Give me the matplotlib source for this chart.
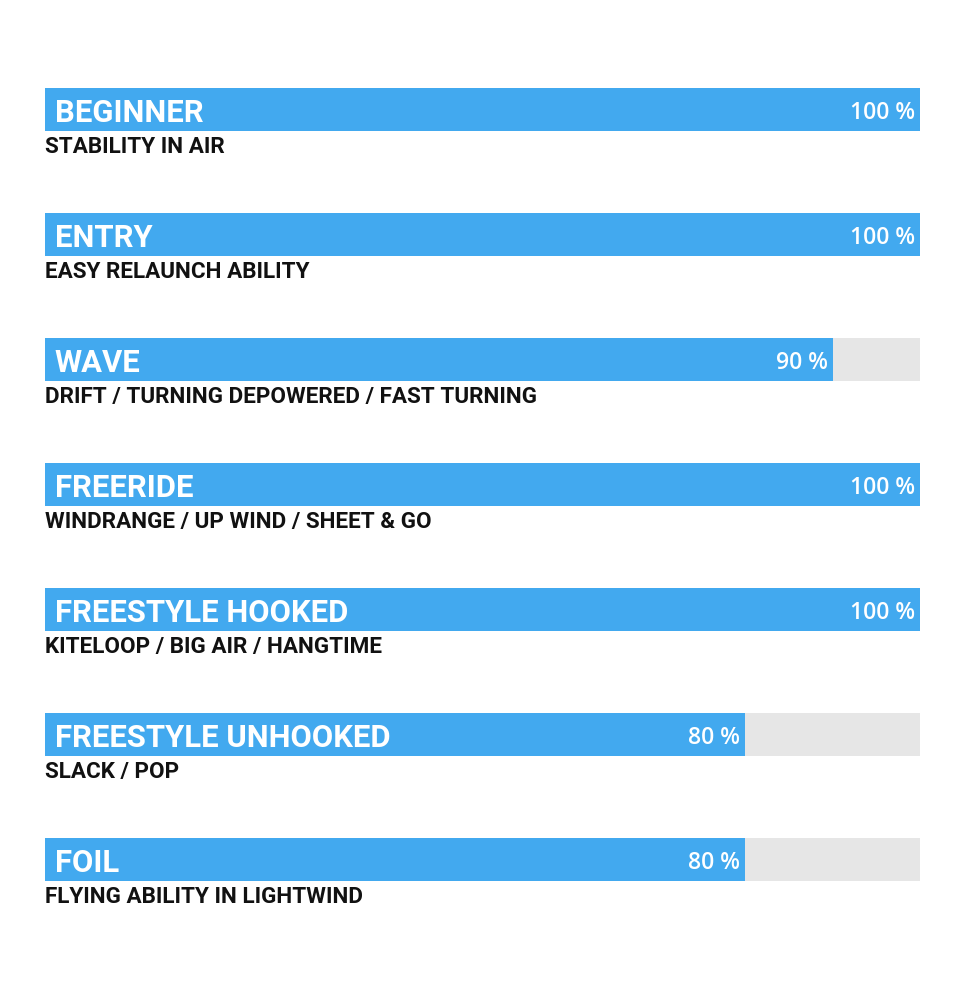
import matplotlib
matplotlib.use("Agg")
import matplotlib.pyplot as plt

categories = ["BEGINNER", "ENTRY", "WAVE", "FREERIDE", "FREESTYLE HOOKED",
              "FREESTYLE UNHOOKED", "FOIL"]
descriptions = ["STABILITY IN AIR", "EASY RELAUNCH ABILITY",
                "DRIFT / TURNING DEPOWERED / FAST TURNING",
                "WINDRANGE / UP WIND / SHEET & GO",
                "KITELOOP / BIG AIR / HANGTIME", "SLACK / POP",
                "FLYING ABILITY IN LIGHTWIND"]
values = [100, 100, 90, 100, 100, 80, 80]
max_value = 100

BLUE = "#42A9EF"
GREY = "#E6E6E6"
W, H = 980, 981

fig = plt.figure(figsize=(W / 100, H / 100), dpi=100)
# axes: x 0..100 -> px 45..920 ; y -0.5..6.5 -> px 46.5..921.5 from top
ax = fig.add_axes([45 / W, 1 - 921.5 / H, 875 / W, 875 / H])
ax.set_xlim(0, max_value)
ax.set_ylim(len(categories) - 0.5, -0.5)
ax.axis("off")

bh = 43 / 125
ys = list(range(len(categories)))
ax.barh(ys, [max_value] * len(ys), height=bh, color=GREY, left=0)
ax.barh(ys, values, height=bh, color=BLUE)

for y, cat, desc, v in zip(ys, categories, descriptions, values):
    ax.text(1.1, y + 0.01, cat, color="white", fontsize=22.3, fontweight="bold",
            family="Roboto", ha="left", va="center_baseline")
    ax.text(v - 0.55, y + 0.01, f"{v} %", color="white", fontsize=16.5,
            family="Open Sans", fontweight=600, ha="right", va="center_baseline")
    ax.text(0, y + 0.28, desc, color="#111111", fontsize=16.2, fontweight="bold",
            family="Roboto", ha="left", va="center_baseline")

fig.savefig("out.png", dpi=100, facecolor="white")
